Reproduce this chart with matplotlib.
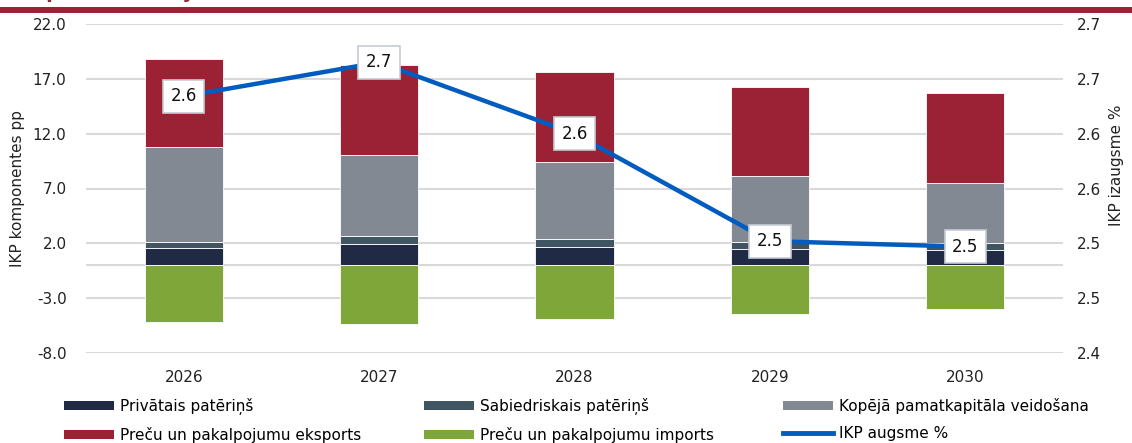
import matplotlib
matplotlib.use("Agg")
import matplotlib.pyplot as plt
from matplotlib.patches import Rectangle, Patch
from matplotlib.lines import Line2D
import numpy as np

plt.rcParams['font.family'] = ['DejaVu Sans']

years = ["2026", "2027", "2028", "2029", "2030"]
privatais = [1.60, 1.97, 1.69, 1.51, 1.42]
sabiedriskais = [0.55, 0.73, 0.73, 0.64, 0.64]
kapitals = [8.65, 7.35, 6.99, 5.98, 5.41]
eksports = [8.05, 8.19, 8.17, 8.13, 8.25]
imports = [-5.14, -5.35, -4.86, -4.47, -4.01]
ikp = [2.634, 2.665, 2.600, 2.502, 2.497]
ikp_labels = ["2.6", "2.7", "2.6", "2.5", "2.5"]

left_ticks = [-8, -3, 2, 7, 12, 17, 22]
left_ticklabels = ["-8.0", "-3.0", "2.0", "7.0", "12.0", "17.0", "22.0"]
right_ticks = [2.4, 2.45, 2.5, 2.55, 2.6, 2.65, 2.7]
right_ticklabels = ["2.4", "2.5", "2.5", "2.6", "2.6", "2.7", "2.7"]

names = ["Privātais patēriņš", "Sabiedriskais patēriņš", "Kopējā pamatkapitāla veidošana",
         "Preču un pakalpojumu eksports", "Preču un pakalpojumu imports", "IKP augsme %"]
colors = ["#202A44", "#405462", "#828992", "#9B2234", "#7EA638"]
line_color = "#005CBE"
grid_color = "#D9D9D9"

fig = plt.figure(figsize=(11.32, 4.43), dpi=100)
ax = fig.add_axes([86/1132, 1-353/443, (1063-86)/1132, (353-24)/443])
ax2 = ax.twinx()

x = np.arange(len(years))
w = 0.4
stack = [privatais, sabiedriskais, kapitals, eksports]
bottom = np.zeros(len(years))
for vals, c in zip(stack, colors[:4]):
    ax.bar(x, vals, w, bottom=bottom, color=c, edgecolor="white", linewidth=0.6, zorder=3)
    bottom = bottom + np.array(vals)
ax.bar(x, imports, w, color=colors[4], edgecolor="white", linewidth=0.6, zorder=3)

ax.set_xlim(-0.5, len(years) - 0.5)
ax.set_ylim(-8, 22)
ax.set_yticks(left_ticks)
ax.set_yticklabels(left_ticklabels)
ax.set_xticks(x)
ax.set_xticklabels(years)
ax.grid(axis="y", color=grid_color, linewidth=1.5, zorder=0)
ax.axhline(0, color=grid_color, linewidth=1.5, zorder=1)
for s in ax.spines.values():
    s.set_visible(False)
for s in ax2.spines.values():
    s.set_visible(False)
ax.tick_params(axis="y", length=0, pad=14, labelsize=11, colors="#222222")
ax.tick_params(axis="x", length=0, pad=12, labelsize=11, colors="#222222")
ax.set_ylabel("IKP komponentes pp", fontsize=11, color="#222222")
ax.yaxis.set_label_coords(-0.062, 0.5)

ax2.plot(x, ikp, color=line_color, linewidth=3.2, zorder=4, solid_capstyle="butt")
ax2.set_ylim(2.4, 2.7)
ax2.set_yticks(right_ticks)
ax2.set_yticklabels(right_ticklabels)
ax2.tick_params(axis="y", length=0, pad=10, labelsize=11, colors="#222222")
ax2.set_ylabel("IKP izaugsme %", fontsize=11, color="#222222")
ax2.yaxis.set_label_coords(1.047, 0.57)
for xi, v, lab in zip(x, ikp, ikp_labels):
    ax2.text(xi, v, lab, ha="center", va="center", fontsize=12, color="#111111", zorder=5,
             bbox=dict(boxstyle="square,pad=0.45", facecolor="white", edgecolor="#C5CCD3", linewidth=1.2))

# title remnant and rule
fig.text(0.0, 1 + 2/443, "komponentu dalījums", fontsize=14, fontweight="bold",
         color="#9B2234", va="baseline", ha="left")
fig.patches.append(Rectangle((0, 1 - 13/443), 1, 6/443, transform=fig.transFigure,
                             facecolor="#9B2234", edgecolor="none"))

# legend in three columns
handles = [Patch(facecolor=c) for c in colors] + [Line2D([], [], color=line_color, linewidth=3.5)]
col_idx = [(0, 3), (1, 4), (2, 5)]
col_x = [61, 421, 780]
for (a, b), cx in zip(col_idx, col_x):
    fig.legend([handles[a], handles[b]], [names[a], names[b]], loc="upper left",
               bbox_to_anchor=(cx/1132, 1 - 395/443), frameon=False, fontsize=11,
               handlelength=3.3, handleheight=0.55, handletextpad=0.35, labelspacing=0.75,
               borderaxespad=0, borderpad=0.2)

fig.savefig("out.png", dpi=100, facecolor="white")
